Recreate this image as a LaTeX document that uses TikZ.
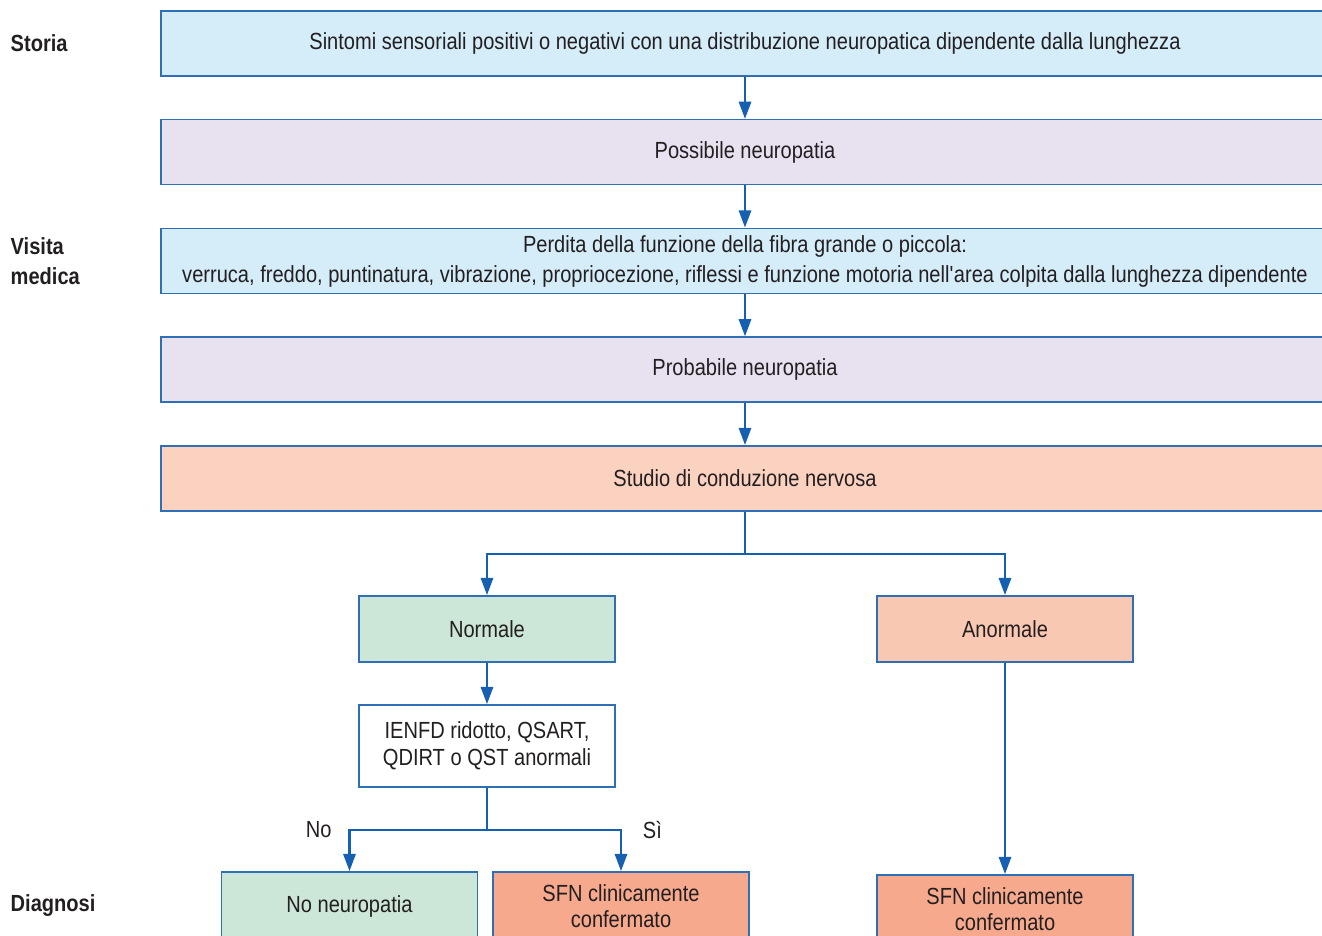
\documentclass[tikz,border=0pt]{standalone}
\usepackage{fontspec}
\setmainfont{Liberation Sans}[FakeStretch=0.86]
\usepackage{xcolor}
\usetikzlibrary{arrows.meta,positioning}

\definecolor{edgeblue}{HTML}{2F6FB5}
\definecolor{arrowblue}{HTML}{1560B0}
\definecolor{histfill}{HTML}{D5ECF9}
\definecolor{lilacfill}{HTML}{E7E1F0}
\definecolor{studyfill}{HTML}{FBD1C0}
\definecolor{normfill}{HTML}{CCE6D7}
\definecolor{abnfill}{HTML}{F9C8B3}
\definecolor{sfnfill}{HTML}{F6A98D}
\definecolor{inktext}{HTML}{231F20}

\begin{document}
\begin{tikzpicture}[x=0.75pt, y=-0.75pt, font=\fontsize{17.5}{22.5}\selectfont, text=inktext,
  wide/.style={rectangle, draw=edgeblue, line width=1.1pt, minimum width=876pt, minimum height=48.75pt, align=center, inner sep=0pt},
  small/.style={rectangle, draw=edgeblue, line width=1.1pt, minimum width=192pt, minimum height=49.5pt, align=center, inner sep=0pt, font=\fontsize{17.5}{20}\selectfont},
  stage/.style={font=\fontsize{17.5}{22.5}\selectfont\bfseries, anchor=west, align=left},
  line/.style={draw=arrowblue, line width=2.2pt, -{Triangle[length=13pt,width=9pt]}},
  wire/.style={draw=arrowblue, line width=2.2pt}]
  \useasboundingbox (0,0) rectangle (1322,936);

  % colonna principale
  \node [wide, fill=histfill] (hist) at (745,43.5) {Sintomi sensoriali positivi o negativi con una distribuzione neuropatica dipendente dalla lunghezza};
  \node [wide, fill=lilacfill, below=31.7pt of hist] (poss) {Possibile neuropatia};
  \node [wide, fill=histfill, below=31.7pt of poss] (exam) {Perdita della funzione della fibra grande o piccola:\\verruca, freddo, puntinatura, vibrazione, propriocezione, riflessi e funzione motoria nell\textquotesingle area colpita dalla lunghezza dipendente};
  \node [wide, fill=lilacfill, below=31.7pt of exam] (prob) {Probabile neuropatia};
  \node [wide, fill=studyfill, below=31.7pt of prob] (ncs) {Studio di conduzione nervosa};

  % rami
  \node [small, fill=normfill] (norm) at (487,629) {Normale};
  \node [small, fill=abnfill] (abn) at (1005,629) {Anormale};
  \node [small, fill=white, minimum height=61.5pt] (ienfd) at (487,746) {IENFD ridotto, QSART,\\QDIRT o QST anormali};
  \node [small, fill=normfill, minimum height=51pt] (noneu) at (349.5,906) {No neuropatia};
  \node [small, fill=sfnfill, minimum height=51pt] (sfn1) at (621,906) {SFN clinicamente\\confermato};
  \node [small, fill=sfnfill, minimum height=51pt] (sfn2) at (1005,909) {SFN clinicamente\\confermato};

  % etichette a sinistra
  \node [stage] at (6,43.5) {Storia};
  \node [stage] at (6,261) {Visita\\medica};
  \node [stage] at (6,906) {Diagnosi};

  \path [line] (hist) -- (poss);
  \path [line] (poss) -- (exam);
  \path [line] (exam) -- (prob);
  \path [line] (prob) -- (ncs);
  \coordinate (split) at (745,554);
  \path [wire] (ncs.south) -- (split);
  \path [line] (split) -| (norm.north);
  \path [line] (split) -| (abn.north);
  \path [line] (norm) -- (ienfd);
  \coordinate (fork) at (487,830);
  \path [wire] (ienfd.south) -- (fork);
  \path [line] (fork) -| node [pos=0.5, left=9pt] {No} (noneu.north);
  \path [line] (fork) -| node [pos=0.5, right=12pt] {Sì} (sfn1.north);
  \path [line] (abn) -- (sfn2);
\end{tikzpicture}
\end{document}
